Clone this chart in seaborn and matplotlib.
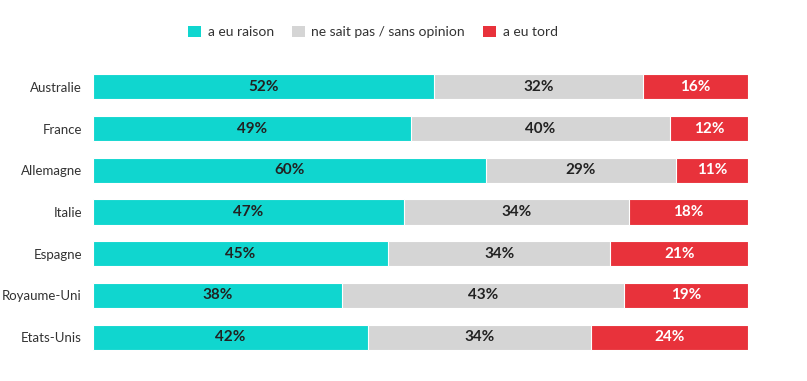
import pandas as pd
import numpy as np
import matplotlib.pyplot as plt
import seaborn as sns
from matplotlib.patches import Patch

pays = ['Australie', 'France', 'Allemagne', 'Italie', 'Espagne', 'Royaume-Uni', 'Etats-Unis']
raison = [52, 49, 60, 47, 45, 38, 42]
sans_opinion = [32, 40, 29, 34, 34, 43, 34]
tord = [16, 12, 11, 18, 21, 19, 24]

series = ['a eu raison', 'ne sait pas / sans opinion', 'a eu tord']
couleurs = ['#10d6cf', '#d5d5d5', '#e8323b']
couleurs_texte = ['#222222', '#222222', '#ffffff']

df = pd.DataFrame({'pays': pays, 'raison': raison, 'sans_opinion': sans_opinion, 'tord': tord})
# les pourcentages arrondis ne font pas toujours 100 : on ramène chaque ligne à 100
total = df[['raison', 'sans_opinion', 'tord']].sum(axis=1)
parts = df[['raison', 'sans_opinion', 'tord']].div(total, axis=0) * 100
df['c1'] = parts['raison']
df['c2'] = parts['raison'] + parts['sans_opinion']
df['c3'] = df['c2'] + parts['tord']

sns.set_theme(style='white')
plt.rcParams['font.family'] = ['Lato', 'DejaVu Sans']

fig = plt.figure(figsize=(8.07, 3.81), dpi=100)
ax = fig.add_axes([93 / 807, 1 - 358 / 381, 655 / 807, 292 / 381])

# barres empilées : on dessine les cumuls du plus grand au plus petit
for col, couleur in zip(['c3', 'c2', 'c1'], couleurs[::-1]):
    sns.barplot(data=df, x=col, y='pays', color=couleur, orient='h', width=0.6,
                edgecolor='white', linewidth=0.8, ax=ax, saturation=1)

# étiquettes au centre de chaque segment
gauche = np.zeros(len(pays))
for col, valeurs, ctexte in zip(['raison', 'sans_opinion', 'tord'],
                                [raison, sans_opinion, tord], couleurs_texte):
    largeur = parts[col].to_numpy()
    for i, v in enumerate(valeurs):
        ax.text(gauche[i] + largeur[i] / 2, i, f'{v}%', ha='center', va='center',
                fontsize=11, fontweight='bold', color=ctexte)
    gauche += largeur

ax.set_xlim(0, 100)
ax.set_ylim(6.5, -0.5)
ax.set_xlabel('')
ax.set_ylabel('')
ax.set_xticks([])
ax.tick_params(axis='y', length=0, pad=8, labelsize=9.5, labelcolor='#333333')
sns.despine(ax=ax, left=True, bottom=True)

poignees = [Patch(facecolor=c, edgecolor='none') for c in couleurs]
leg = fig.legend(poignees, series, loc='center', bbox_to_anchor=(373 / 807, 1 - 32 / 381),
                 ncol=3, frameon=False, fontsize=10, handlelength=0.9, handleheight=0.9,
                 handletextpad=0.5, columnspacing=1.3)
for t in leg.get_texts():
    t.set_color('#333333')

fig.savefig('out.png', dpi=100, facecolor='white')
